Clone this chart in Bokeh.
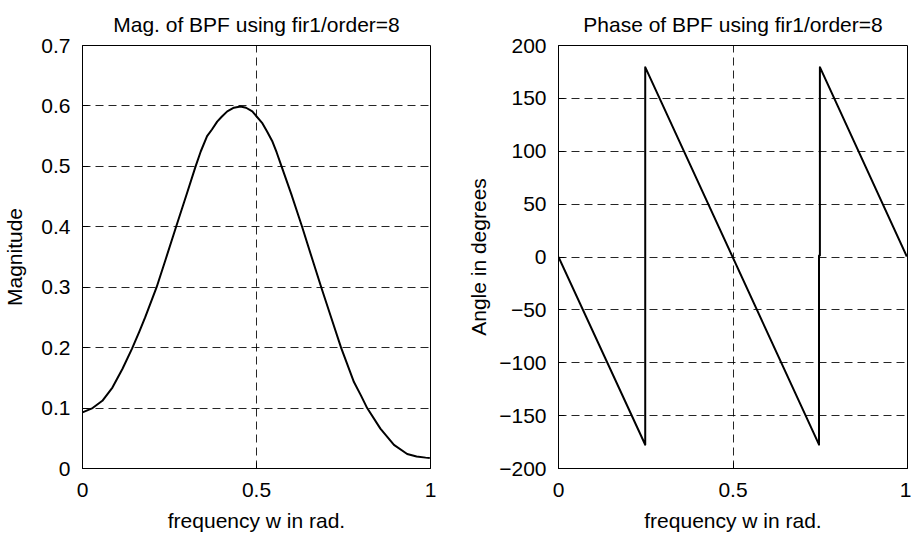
from bokeh.plotting import figure
from bokeh.models import FixedTicker, Range1d
from bokeh.layouts import row
from bokeh.embed import file_html
from bokeh.resources import INLINE

# ---- data ----
mag_freq = [0.0, 0.029, 0.057, 0.086, 0.115, 0.142, 0.163, 0.18, 0.213, 0.24, 0.269, 0.30,
            0.325, 0.34, 0.358, 0.372, 0.387, 0.40, 0.416, 0.435, 0.454, 0.47, 0.488,
            0.516, 0.53, 0.545, 0.558, 0.572, 0.60, 0.631, 0.66, 0.686, 0.715, 0.743,
            0.78, 0.80, 0.818, 0.856, 0.895, 0.933, 0.96, 0.986, 0.998]
mag_vals = [0.093, 0.10, 0.112, 0.134, 0.165, 0.198, 0.226, 0.25, 0.30, 0.348, 0.40, 0.455,
            0.50, 0.525, 0.55, 0.561, 0.574, 0.582, 0.591, 0.597, 0.599, 0.597, 0.591,
            0.572, 0.558, 0.542, 0.523, 0.50, 0.454, 0.40, 0.347, 0.30, 0.249, 0.20,
            0.143, 0.121, 0.10, 0.066, 0.039, 0.024, 0.02, 0.018, 0.0175]

phase_freq = [0.0, 0.2485, 0.2485, 0.7465, 0.7465, 0.749, 0.749, 0.998]
phase_deg = [0.0, -177.5, 179.5, -177.5, 1.5, 1.5, 179.5, 0.5]

x_ticks = [0, 0.5, 1]
x_tick_labels = ["0", "0.5", "1"]
mag_ticks = [0, 0.1, 0.2, 0.3, 0.4, 0.5, 0.6, 0.7]
mag_tick_labels = ["0", "0.1", "0.2", "0.3", "0.4", "0.5", "0.6", "0.7"]
phase_ticks = [-200, -150, -100, -50, 0, 50, 100, 150, 200]
phase_tick_labels = ["\u2212200", "\u2212150", "\u2212100", "\u221250", "0", "50", "100", "150", "200"]

FONT = "Liberation Sans"
FS = "21px"


def style_axis(ax, ticks, labels):
    ax.ticker = FixedTicker(ticks=ticks)
    ax.major_label_overrides = {t: l for t, l in zip(ticks, labels)}
    ax.axis_line_color = "black"
    ax.axis_line_width = 1
    ax.major_tick_line_color = "black"
    ax.major_tick_in = 6
    ax.major_tick_out = 0
    ax.minor_tick_line_color = None
    ax.major_label_text_font = FONT
    ax.major_label_text_color = "black"
    ax.major_label_text_font_size = FS
    ax.axis_label_text_font = FONT
    ax.axis_label_text_font_size = FS
    ax.axis_label_text_font_style = "normal"
    ax.axis_label_text_color = "black"


def make_fig(title, ylabel, yr, yticks, ylabels, xs, ys, width, bl, br):
    p = figure(width=width, height=536, output_backend="svg", toolbar_location=None,
               x_range=Range1d(0, 1), y_range=Range1d(yr[0], yr[1]),
               min_border_left=bl, min_border_right=br, min_border_top=45,
               min_border_bottom=68, title=title)
    p.title.text_font = FONT
    p.title.text_font_size = FS
    p.title.text_font_style = "normal"
    p.title.align = "center"
    p.title.text_color = "black"
    p.title.standoff = 20
    p.background_fill_color = "white"
    p.border_fill_color = "white"
    p.outline_line_color = "black"
    p.outline_line_width = 1

    style_axis(p.xaxis[0], x_ticks, x_tick_labels)
    p.xaxis[0].axis_label = "frequency w in rad."
    p.xaxis[0].major_label_standoff = 14
    p.xaxis[0].axis_label_standoff = 9
    style_axis(p.yaxis[0], yticks, ylabels)
    p.yaxis[0].axis_label = ylabel
    p.yaxis[0].major_label_standoff = 12

    p.xgrid.ticker = FixedTicker(ticks=[0.5])
    p.ygrid.ticker = FixedTicker(ticks=yticks[1:-1])
    for g in (p.xgrid, p.ygrid):
        g.grid_line_color = "black"
        g.grid_line_alpha = 0.85
        g.grid_line_dash = "8 5"
        g.grid_line_width = 1

    p.line(xs, ys, line_color="black", line_width=2, line_join="round")
    return p


p1 = make_fig("Mag. of BPF using fir1/order=8", "Magnitude", (0, 0.7),
              mag_ticks, mag_tick_labels, mag_freq, mag_vals, 446, 82, 16)
p1.yaxis[0].axis_label_standoff = 12
p2 = make_fig("Phase of BPF using fir1/order=8", "Angle in degrees", (-200, 200),
              phase_ticks, phase_tick_labels, phase_freq, phase_deg, 465, 112, 4)
p2.yaxis[0].axis_label_standoff = 6

layout = row(p1, p2)
open("out.html", "w").write(file_html(layout, INLINE))
